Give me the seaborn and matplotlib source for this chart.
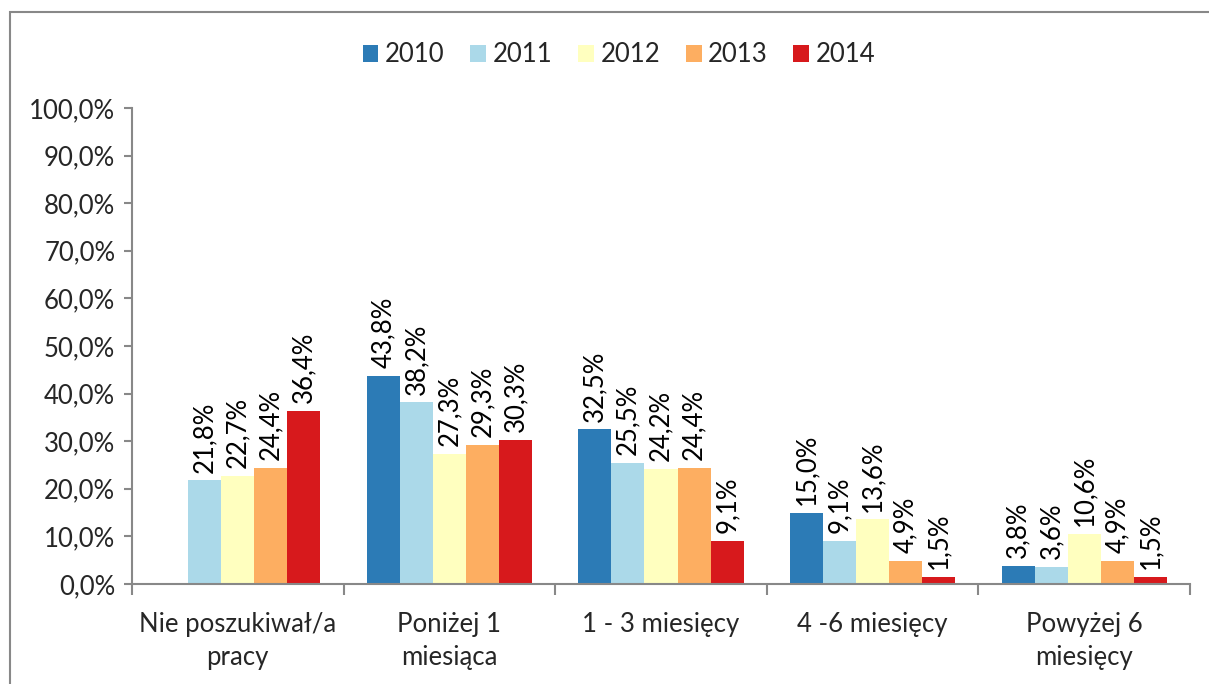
import numpy as np
import pandas as pd
import matplotlib
matplotlib.use("Agg")
import matplotlib.pyplot as plt
import seaborn as sns
from matplotlib.patches import Rectangle

categories = ["Nie poszukiwał/a\npracy", "Poniżej 1\nmiesiąca", "1 - 3 miesięcy",
              "4 -6 miesięcy", "Powyżej 6\nmiesięcy"]
years = ["2010", "2011", "2012", "2013", "2014"]
v2010 = [np.nan, 43.8, 32.5, 15.0, 3.8]
v2011 = [21.8, 38.2, 25.5, 9.1, 3.6]
v2012 = [22.7, 27.3, 24.2, 13.6, 10.6]
v2013 = [24.4, 29.3, 24.4, 4.9, 4.9]
v2014 = [36.4, 30.3, 9.1, 1.5, 1.5]
colors = ["#2c7bb6", "#abd9e9", "#ffffbf", "#fdae61", "#d7191c"]
yticks = [0, 10, 20, 30, 40, 50, 60, 70, 80, 90, 100]

sns.set_theme(style="white")
plt.rcParams["font.family"] = ["Lato", "DejaVu Sans"]

rows = []
for y, vals in zip(years, [v2010, v2011, v2012, v2013, v2014]):
    for c, v in zip(categories, vals):
        rows.append({"cat": c, "year": y, "val": v})
df = pd.DataFrame(rows)

fig = plt.figure(figsize=(12.09, 6.84), dpi=100)
ax = fig.add_axes([132/1209, 1-584/684, (1190-132)/1209, (584-108)/684])

sns.barplot(data=df, x="cat", y="val", hue="year", order=categories, hue_order=years,
            palette=colors, width=0.78, gap=0, saturation=1, ax=ax, legend=True,
            edgecolor="none", linewidth=0, errorbar=None)

for cont in ax.containers:
    for bar in cont:
        v = bar.get_height()
        if np.isnan(v):
            continue
        x = bar.get_x() + bar.get_width() / 2
        ax.annotate(f"{v:.1f}%".replace(".", ","), (x, v), xytext=(0, 5.5),
                    textcoords="offset points", rotation=90, ha="center", va="bottom",
                    fontsize=18.5, color="black")

ax.set_ylim(0, 100)
ax.set_xlim(-0.5, 4.5)
ax.set_yticks(yticks)
ax.set_yticklabels([f"{t:.1f}%".replace(".", ",") for t in yticks], fontsize=18.5)
ax.set_xticks(range(5))
ax.set_xticklabels(categories, fontsize=18.5, va="top", linespacing=1.4)
ax.set_xticks([-0.5, 0.5, 1.5, 2.5, 3.5, 4.5], minor=True)
ax.tick_params(axis="x", which="major", length=0, pad=20)
ax.tick_params(axis="x", which="minor", length=8, width=1.5, color="#888888", direction="out", bottom=True)
ax.tick_params(axis="y", which="major", length=6, width=1.5, color="#888888", direction="out", left=True, pad=6)
ax.set_xlabel("")
ax.set_ylabel("")
for s in ["top", "right"]:
    ax.spines[s].set_visible(False)
for s in ["left", "bottom"]:
    ax.spines[s].set_color("#888888")
    ax.spines[s].set_linewidth(1.5)

leg = ax.legend(loc="center", ncol=5, frameon=False, fontsize=18.5, handlelength=0.62,
                handleheight=0.62, handletextpad=0.25, columnspacing=1.0)
leg.set_bbox_to_anchor((0.5 * (363 + 875) / 1209, 1 - 55 / 684), transform=fig.transFigure)

fig.patches.append(Rectangle((10/1209, -0.05), 1.1, 1-12/684+0.05, transform=fig.transFigure,
                             fill=False, edgecolor="#888888", linewidth=1.5, figure=fig))

fig.savefig("out.png", dpi=100)
